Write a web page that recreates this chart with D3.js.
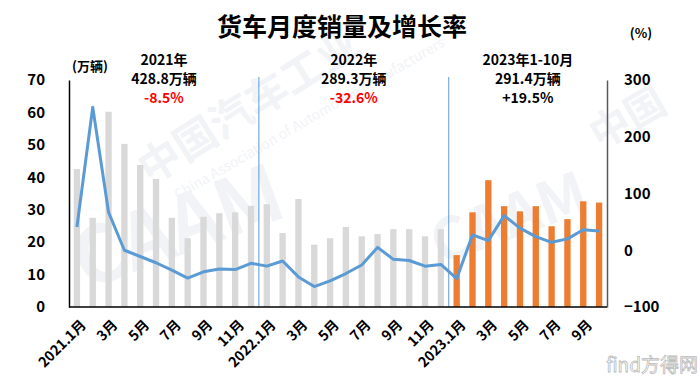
<!DOCTYPE html>
<html>
<head>
<meta charset="utf-8">
<script src="https://cdn.jsdelivr.net/npm/d3@7"></script>
<style>
  body { margin: 0; background: #fff; }
  svg text { font-family: "Noto Sans CJK SC", "Noto Sans", sans-serif; }
</style>
</head>
<body>
<svg id="chart" width="700" height="383"></svg>
<script>
// months, 2021.1 - 2023.10
const months = [
  '2021.1月','2月','3月','4月','5月','6月','7月','8月','9月','10月','11月','12月',
  '2022.1月','2月','3月','4月','5月','6月','7月','8月','9月','10月','11月','12月',
  '2023.1月','2月','3月','4月','5月','6月','7月','8月','9月','10月'
];
// sales, 万辆
const sales = [
  42.5, 27.5, 60.2, 50.3, 43.8, 39.5, 27.5, 21.2, 27.8, 28.9, 29.2, 31.2,
  31.7, 22.8, 33.3, 19.2, 21.2, 24.7, 21.8, 22.5, 24.0, 24.0, 21.8, 24.0,
  16.0, 29.2, 39.1, 31.1, 29.5, 31.1, 24.9, 27.1, 32.6, 32.2
];
// growth rate, %
const growth = [
  41, 252, 67, 0, -11, -22, -35, -49, -38, -33, -34, -23,
  -28, -19, -47, -64, -54, -41, -26, 5, -16, -18, -28, -25,
  -50, 27, 17, 61, 39, 24, 14, 20, 36, 34
];
const leftTicks = [0, 10, 20, 30, 40, 50, 60, 70];
const rightTicks = [-100, 0, 100, 200, 300];
const yearNotes = [
  { first: 0, lines: ['2021年', '428.8万辆', '-8.5%'], neg: true },
  { first: 12, lines: ['2022年', '289.3万辆', '-32.6%'], neg: true },
  { first: 24, lines: ['2023年1-10月', '291.4万辆', '+19.5%'], neg: false }
];

const svg = d3.select('#chart');
const plotL = 69, plotR = 607, plotT = 80, plotB = 307;

const x = d3.scaleBand().domain(d3.range(months.length))
  .range([plotL, plotR]).paddingInner(0.6).paddingOuter(0.3);
const yL = d3.scaleLinear().domain([0, 70]).range([plotB, plotT]);
const yR = d3.scaleLinear().domain([-100, 300]).range([plotB, plotT]);
const cx = i => x(i) + x.bandwidth() / 2;
const step = x.step();

// faint watermark
const wm = svg.append('g').attr('fill', '#f1f3f6');
wm.append('text').attr('transform', 'translate(150,185) rotate(-32)')
  .attr('font-size', 42).attr('font-weight', 'bold')
  .text('中国汽车工业');
wm.append('text').attr('transform', 'translate(178,200) rotate(-30)')
  .attr('font-size', 14)
  .text('China Association of Automobile Manufacturers');
wm.append('text').attr('transform', 'translate(600,150) rotate(-30)')
  .attr('font-size', 40).attr('font-weight', 'bold')
  .text('中国');
wm.append('text').attr('transform', 'translate(85,290) rotate(-20)')
  .attr('font-size', 78).attr('font-weight', 'bold')
  .text('CAAM');
wm.append('text').attr('transform', 'translate(440,265) rotate(-20)')
  .attr('font-size', 58).attr('font-weight', 'bold')
  .text('CAAM');

// title
svg.append('text').attr('x', 342).attr('y', 36).attr('text-anchor', 'middle')
  .attr('font-size', 25).attr('font-weight', 'bold').attr('fill', '#000')
  .text('货车月度销量及增长率');

// bars
svg.append('g').selectAll('rect').data(sales).enter().append('rect')
  .attr('x', (d, i) => x(i))
  .attr('width', x.bandwidth())
  .attr('y', d => yL(d))
  .attr('height', d => plotB - yL(d))
  .attr('fill', (d, i) => i >= 24 ? '#ed7d31' : '#d9d9d9');

// year separators
[12, 24].forEach(i => {
  svg.append('line')
    .attr('x1', cx(i) - step / 2).attr('x2', cx(i) - step / 2)
    .attr('y1', 77).attr('y2', plotB)
    .attr('stroke', '#5b9bd5').attr('stroke-width', 1);
});

// growth line
const line = d3.line().x((d, i) => cx(i)).y(d => yR(d));
svg.append('path').datum(growth)
  .attr('d', line)
  .attr('fill', 'none')
  .attr('stroke', '#5b9bd5')
  .attr('stroke-width', 3)
  .attr('stroke-linejoin', 'round');

// left axis
const gL = svg.append('g').attr('transform', `translate(${plotL},0)`)
  .call(d3.axisLeft(yL).tickValues(leftTicks).tickSize(0).tickPadding(24));
gL.select('.domain').attr('stroke', '#000').attr('stroke-width', 1.5);
gL.selectAll('text').attr('font-size', 15).attr('font-weight', 'bold').attr('fill', '#000')
  .attr('font-family', '"Noto Sans CJK SC", sans-serif');

// right axis
const gR = svg.append('g').attr('transform', `translate(${plotR},0)`)
  .call(d3.axisRight(yR).tickValues(rightTicks).tickSize(0).tickPadding(17));
gR.select('.domain').attr('stroke', '#595959').attr('stroke-width', 1.5);
gR.selectAll('text').attr('font-size', 15).attr('font-weight', 'bold').attr('fill', '#000')
  .attr('font-family', '"Noto Sans CJK SC", sans-serif');

// bottom axis line
svg.append('line').attr('x1', plotL).attr('x2', plotR)
  .attr('y1', plotB).attr('y2', plotB)
  .attr('stroke', '#000').attr('stroke-width', 1.5);

// x labels, every other month
svg.append('g').selectAll('text')
  .data(months.map((m, i) => ({ m, i })).filter(d => d.i % 2 === 0))
  .enter().append('text')
  .attr('transform', d => `translate(${cx(d.i) + 3},${plotB + 12}) rotate(-45)`)
  .attr('text-anchor', 'end')
  .attr('dy', '0.7em')
  .attr('font-size', 14).attr('font-weight', 'bold').attr('fill', '#000')
  .text(d => d.m);

// units
svg.append('text').attr('x', 90).attr('y', 71).attr('text-anchor', 'middle')
  .attr('font-size', 13).attr('font-weight', 'bold').text('(万辆)');
svg.append('text').attr('x', 641).attr('y', 38).attr('text-anchor', 'middle')
  .attr('font-size', 13).attr('font-weight', 'bold').text('(%)');

// year notes
yearNotes.forEach(n => {
  const mid = (cx(n.first) + cx(Math.min(n.first + 11, months.length - 1))) / 2;
  const g = svg.append('g');
  n.lines.forEach((t, k) => {
    g.append('text').attr('x', mid).attr('y', 65 + k * 19)
      .attr('text-anchor', 'middle')
      .attr('font-size', 14).attr('font-weight', 'bold')
      .attr('fill', k === 2 && n.neg ? '#ff0000' : '#000')
      .text(t);
  });
});

// source mark
svg.append('text').attr('x', 698).attr('y', 372).attr('text-anchor', 'end')
  .attr('font-size', 19).attr('fill', '#fff')
  .attr('stroke', '#bbbbbb').attr('stroke-width', 0.8)
  .text('find方得网');
</script>
</body>
</html>
